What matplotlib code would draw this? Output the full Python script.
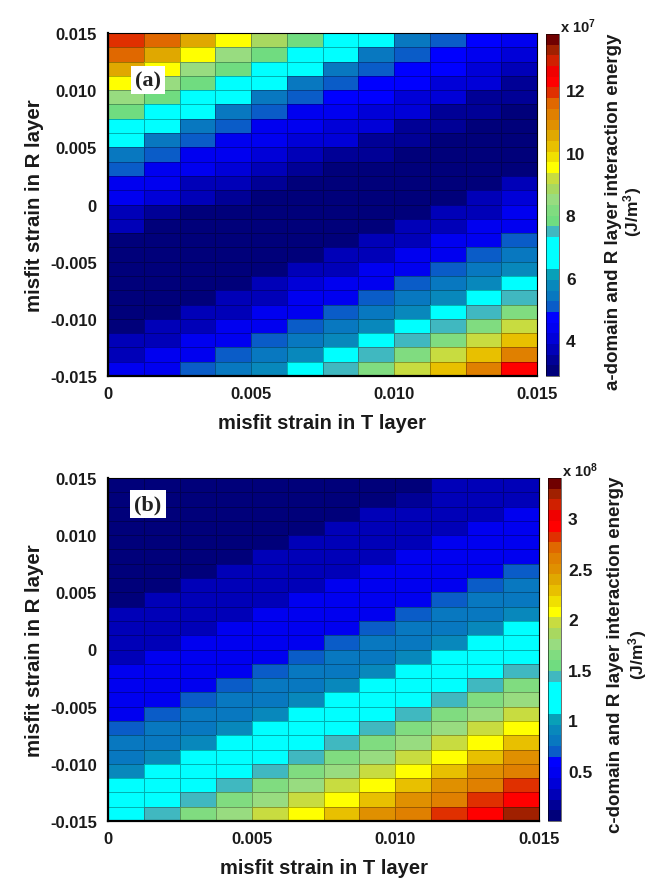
import numpy as np
import matplotlib
matplotlib.use('Agg')
import matplotlib.pyplot as plt
from matplotlib.colors import ListedColormap

plt.rcParams['font.family'] = ['Liberation Sans', 'DejaVu Sans']
plt.rcParams['font.weight'] = 'bold'
plt.rcParams['axes.labelweight'] = 'bold'
plt.rcParams['mathtext.default'] = 'regular'
plt.rcParams['mathtext.fontset'] = 'custom'
plt.rcParams['mathtext.rm'] = 'Liberation Sans:bold'

# interaction energy read from the cells, top row first (units of 1e7 J/m3)
energy_a = [
    [11.9, 11.6, 10.5, 9.5, 8.8, 7.8, 6.8, 6.8, 5.4, 5.1, 4.7, 4.4],
    [11.6, 10.5, 9.5, 8.5, 7.8, 6.8, 6.8, 5.4, 5.1, 4.7, 4.4, 4.05],
    [10.5, 9.5, 8.5, 7.8, 6.8, 6.8, 5.4, 5.1, 4.7, 4.7, 4.05, 3.7],
    [9.5, 8.5, 7.8, 6.8, 6.8, 5.4, 5.1, 4.7, 4.7, 4.05, 4.05, 3.4],
    [8.5, 7.8, 6.8, 6.8, 5.4, 5.1, 4.7, 4.7, 4.05, 4.05, 3.4, 3.4],
    [7.8, 6.8, 6.8, 5.4, 5.1, 4.4, 4.4, 4.05, 4.05, 3.4, 3.4, 3.0],
    [6.8, 6.8, 5.4, 5.1, 4.4, 4.4, 4.05, 4.05, 3.4, 3.4, 3.0, 3.0],
    [6.8, 5.4, 5.1, 4.4, 4.4, 4.05, 4.05, 3.4, 3.4, 3.0, 3.0, 3.0],
    [5.4, 5.1, 4.4, 4.4, 4.05, 3.7, 3.4, 3.4, 3.0, 3.0, 3.0, 3.0],
    [5.1, 4.4, 4.4, 4.05, 3.7, 3.4, 3.0, 3.0, 3.0, 3.0, 3.0, 3.0],
    [4.4, 4.4, 3.7, 3.7, 3.4, 3.0, 3.0, 3.0, 3.0, 3.0, 3.0, 3.7],
    [4.4, 4.05, 3.7, 3.4, 3.0, 3.0, 3.0, 3.0, 3.0, 3.0, 3.7, 4.05],
    [3.7, 3.4, 3.0, 3.0, 3.0, 3.0, 3.0, 3.0, 3.0, 3.7, 3.7, 4.4],
    [3.7, 3.0, 3.0, 3.0, 3.0, 3.0, 3.0, 3.0, 3.7, 3.7, 4.4, 4.4],
    [3.0, 3.0, 3.0, 3.0, 3.0, 3.0, 3.0, 3.7, 3.7, 4.4, 4.4, 5.1],
    [3.0, 3.0, 3.0, 3.0, 3.0, 3.0, 3.7, 3.7, 4.4, 4.4, 5.1, 5.4],
    [3.0, 3.0, 3.0, 3.0, 3.0, 3.7, 3.7, 4.4, 4.4, 5.1, 5.4, 5.8],
    [3.0, 3.0, 3.0, 3.0, 3.7, 4.05, 4.4, 4.4, 5.1, 5.4, 5.8, 6.8],
    [3.0, 3.0, 3.0, 3.7, 3.7, 4.4, 4.4, 5.1, 5.4, 5.8, 6.8, 7.5],
    [3.0, 3.0, 3.7, 3.7, 4.4, 4.4, 5.1, 5.4, 5.8, 6.8, 7.5, 8.15],
    [3.0, 3.7, 3.7, 4.4, 4.4, 5.1, 5.4, 5.8, 6.8, 7.5, 8.15, 9.2],
    [3.7, 3.7, 4.4, 4.4, 5.1, 5.4, 5.8, 6.8, 7.5, 8.15, 9.2, 10.2],
    [3.7, 4.4, 4.4, 5.1, 5.4, 5.8, 6.8, 7.5, 8.15, 9.2, 10.2, 11.2],
    [4.4, 4.4, 5.1, 5.4, 5.8, 6.8, 7.5, 8.15, 9.2, 10.2, 11.2, 12.25],
]

# same for the c-domain panel (units of 1e8 J/m3)
energy_b = [
    [.06, .06, .06, .06, .06, .06, .06, .06, .06, .27, .27, .27],
    [.06, .06, .06, .06, .06, .06, .06, .06, .16, .27, .27, .27],
    [.06, .06, .06, .06, .06, .06, .06, .27, .27, .27, .27, .48],
    [.06, .06, .06, .06, .06, .06, .27, .27, .27, .27, .48, .48],
    [.06, .06, .06, .06, .06, .27, .27, .27, .27, .48, .48, .48],
    [.06, .06, .06, .06, .27, .27, .27, .27, .48, .48, .48, .48],
    [.06, .06, .06, .27, .27, .27, .27, .48, .48, .48, .48, .69],
    [.06, .06, .27, .27, .27, .27, .48, .48, .48, .48, .69, .80],
    [.06, .27, .27, .27, .27, .48, .48, .48, .48, .69, .80, .80],
    [.27, .27, .27, .27, .48, .48, .48, .48, .69, .80, .80, .90],
    [.27, .27, .27, .48, .48, .48, .48, .69, .80, .80, .90, 1.22],
    [.27, .27, .48, .48, .48, .48, .69, .80, .80, .90, 1.22, 1.22],
    [.27, .48, .48, .48, .48, .69, .80, .80, .90, 1.22, 1.22, 1.22],
    [.48, .48, .48, .48, .69, .80, .80, .90, 1.22, 1.22, 1.22, 1.43],
    [.48, .48, .48, .69, .80, .80, .90, 1.22, 1.22, 1.22, 1.43, 1.64],
    [.48, .48, .69, .80, .80, .90, 1.22, 1.22, 1.22, 1.43, 1.64, 1.75],
    [.48, .69, .80, .80, .90, 1.22, 1.22, 1.22, 1.43, 1.64, 1.75, 1.96],
    [.69, .80, .80, .90, 1.22, 1.22, 1.22, 1.43, 1.64, 1.75, 1.96, 2.07],
    [.80, .80, .90, 1.22, 1.22, 1.22, 1.43, 1.64, 1.75, 1.96, 2.07, 2.28],
    [.80, .90, 1.22, 1.22, 1.22, 1.43, 1.64, 1.75, 1.96, 2.07, 2.28, 2.49],
    [.90, 1.22, 1.22, 1.22, 1.43, 1.64, 1.75, 1.96, 2.07, 2.28, 2.49, 2.60],
    [1.22, 1.22, 1.22, 1.43, 1.64, 1.75, 1.96, 2.07, 2.28, 2.49, 2.60, 2.81],
    [1.22, 1.22, 1.43, 1.64, 1.75, 1.96, 2.07, 2.28, 2.49, 2.60, 2.81, 2.92],
    [1.22, 1.43, 1.64, 1.75, 1.96, 2.07, 2.28, 2.49, 2.60, 2.81, 2.92, 3.23],
]

band_colors = [
    '#00007a', '#000096', '#0000b8', '#0000d8', '#0000f0', '#0000ff', '#0a5cc8', '#0878c0',
    '#0888bc', '#08a0b8', '#00ffff', '#00ffff', '#00ffff', '#40b8c0', '#70dc80', '#80dc80',
    '#98dc80', '#a8d860', '#c8dc40', '#ffff00', '#f0e000', '#e8c000', '#e0a800', '#e09000',
    '#e08000', '#e06800', '#e03000', '#ff0000', '#f00000', '#d02000', '#a02000', '#700000',
]

x_ticks = [0, 0.005, 0.010, 0.015]
x_labels = ['0', '0.005', '0.010', '0.015']
y_ticks = [-0.015, -0.010, -0.005, 0, 0.005, 0.010, 0.015]
y_labels = ['-0.015', '-0.010', '-0.005', '0', '0.005', '0.010', '0.015']
ticks_a = [4, 6, 8, 10, 12]
ticks_b = [0.5, 1, 1.5, 2, 2.5, 3]
ticklabels_b = ['0.5', '1', '1.5', '2', '2.5', '3']

W, H = 652, 879
cmap = ListedColormap(band_colors)


def px_axes(fig, x0, y0, x1, y1):
    return fig.add_axes([x0 / W, 1 - y1 / H, (x1 - x0) / W, (y1 - y0) / H])


def panel(fig, energy, box, cbox, vmin, vmax, cticks, clabels, tag, tagpos, power, label, lab_x, unit_x, lab_y):
    ax = px_axes(fig, *box)
    x_edges = np.linspace(0, 0.015, 13)
    y_edges = np.linspace(0.015, -0.015, 25)
    mesh = ax.pcolormesh(x_edges, y_edges, np.array(energy), cmap=cmap, vmin=vmin, vmax=vmax,
                         edgecolors=(0, 0, 0, 0.3), linewidth=0.5)
    ax.set_xlim(0, 0.015)
    ax.set_ylim(-0.015, 0.015)
    ax.set_xticks(x_ticks)
    ax.set_xticklabels(x_labels)
    ax.set_yticks(y_ticks)
    ax.set_yticklabels(y_labels)
    ax.tick_params(length=0, labelsize=12, colors='#1a1a1a')
    ax.tick_params(axis='y', pad=8)
    ax.tick_params(axis='x', pad=7)
    ax.spines['top'].set_linewidth(0.8)
    ax.spines['right'].set_linewidth(0.8)
    ax.spines['left'].set_linewidth(1.6)
    ax.spines['bottom'].set_linewidth(1.6)
    ax.set_xlabel('misfit strain in T layer', fontsize=14.5, labelpad=9, color='#1a1a1a')
    ax.set_ylabel('misfit strain in R layer', fontsize=14.7, labelpad=4, color='#1a1a1a')
    fig.text(tagpos[0] / W, 1 - tagpos[1] / H, tag, family='Liberation Serif', fontsize=16,
             ha='center', va='center', color='#222222',
             bbox=dict(facecolor='white', edgecolor='none', pad=3))

    cax = px_axes(fig, *cbox)
    cb = fig.colorbar(mesh, cax=cax)
    cb.set_ticks(cticks)
    cb.set_ticklabels(clabels)
    cb.ax.tick_params(length=0, labelsize=12.5, pad=5, colors='#1a1a1a')
    cb.outline.set_linewidth(0.4)
    fig.text((cbox[2] + 1) / W, 1 - (cbox[1] - 8) / H, 'x 10$^{%d}$' % power, fontsize=10.5,
             ha='left', va='center', color='#1a1a1a')
    fig.text(lab_x / W, 1 - lab_y / H, label, rotation=90, fontsize=13.5,
             ha='center', va='center', color='#1a1a1a')
    fig.text(unit_x / W, 1 - lab_y / H, '(J/m$^{3}$)', rotation=90, fontsize=12.5,
             ha='center', va='center', color='#1a1a1a')


fig = plt.figure(figsize=(W / 100, H / 100), dpi=100)
panel(fig, energy_a, (108, 34, 537, 377), (546, 35, 559, 377), 2.85, 13.8, ticks_a,
      [str(t) for t in ticks_a], '(a)', (148, 81), 7,
      'a-domain and R layer interaction energy', 613, 633, 212)
panel(fig, energy_b, (108, 479, 539, 822), (548, 479, 561, 822), 0.005, 3.4, ticks_b,
      ticklabels_b, '(b)', (148, 505), 8,
      'c-domain and R layer interaction energy', 615, 638, 655)
fig.savefig('out.png', dpi=100)
